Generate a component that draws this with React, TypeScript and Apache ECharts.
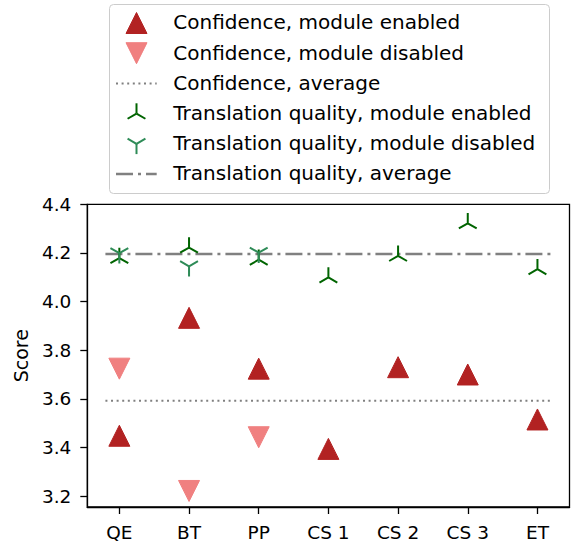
import React, { useEffect, useRef } from 'react';
import * as echarts from 'echarts';

// ---- data ----
const categories = ['QE', 'BT', 'PP', 'CS 1', 'CS 2', 'CS 3', 'ET'];
const confidenceEnabled = [3.448, 3.933, 3.724, 3.394, 3.73, 3.7, 3.515];
const confidenceDisabledCats = ['QE', 'BT', 'PP'];
const confidenceDisabled = [3.724, 3.221, 3.442];
const translationEnabled = [4.179, 4.222, 4.172, 4.099, 4.188, 4.322, 4.133];
const translationDisabledCats = ['QE', 'BT', 'PP'];
const translationDisabled = [4.199, 4.145, 4.201];
const confidenceAverage = 3.592;
const translationAverage = 4.196;
const yTicks = [3.2, 3.4, 3.6, 3.8, 4.0, 4.2, 4.4];
const xTicks = [0, 1, 2, 3, 4, 5, 6];
const legendLabels = [
  'Confidence, module enabled',
  'Confidence, module disabled',
  'Confidence, average',
  'Translation quality, module enabled',
  'Translation quality, module disabled',
  'Translation quality, average',
];

const FONT = 'DejaVu Sans';
const RED = '#B22222';
const PINK = '#F08080';
const DGREEN = '#006400';
const SGREEN = '#2E8B57';
const GRAY = '#808080';

const TRI_UP = 'path://M0,0L0,-1M0,0L-0.866,0.5M0,0L0.866,0.5M-1,-1M1,1';
const TRI_DOWN = 'path://M0,0L0,1M0,0L-0.866,-0.5M0,0L0.866,-0.5M-1,-1M1,1';

function legendGraphics() {
  const els: any[] = [];
  els.push({
    type: 'rect',
    shape: { x: 109.5, y: 4.5, width: 440, height: 189, r: 4 },
    style: { fill: 'rgba(255,255,255,0.8)', stroke: '#cccccc', lineWidth: 1 },
    z: 10,
  });
  const cx = 136.5;
  const r = 10.3;
  const h = 10.5;
  legendLabels.forEach((label, i) => {
    const base = 29.2 + 30.2 * i;
    const cy = base - 6.2;
    els.push({
      type: 'text',
      x: 173.3,
      y: base - 6.9,
      style: { text: label, font: `20px "${FONT}"`, fill: '#000', verticalAlign: 'middle', align: 'left' },
      z: 11,
    });
    if (i === 0) {
      els.push({ type: 'polygon', shape: { points: [[cx, cy - h], [cx + h, cy + h], [cx - h, cy + h]] }, style: { fill: RED, stroke: RED, lineWidth: 1 }, z: 11 });
    } else if (i === 1) {
      els.push({ type: 'polygon', shape: { points: [[cx, cy + h], [cx + h, cy - h], [cx - h, cy - h]] }, style: { fill: PINK, stroke: PINK, lineWidth: 1 }, z: 11 });
    } else if (i === 2) {
      els.push({ type: 'line', shape: { x1: 116, y1: cy, x2: 156.7, y2: cy }, style: { stroke: GRAY, lineWidth: 2, lineDash: [2, 3.6] }, z: 11 });
    } else if (i === 5) {
      els.push({ type: 'line', shape: { x1: 116, y1: cy, x2: 156.7, y2: cy }, style: { stroke: GRAY, lineWidth: 2.5, lineDash: [17, 5, 3, 5] }, z: 11 });
    } else {
      const up = i === 3;
      const col = up ? DGREEN : SGREEN;
      const s = up ? 1 : -1;
      const arms = [
        [cx, cy - s * r],
        [cx - 0.866 * r, cy + s * 0.5 * r],
        [cx + 0.866 * r, cy + s * 0.5 * r],
      ];
      arms.forEach((p) => {
        els.push({ type: 'line', shape: { x1: cx, y1: cy, x2: p[0], y2: p[1] }, style: { stroke: col, lineWidth: 2 }, z: 11 });
      });
    }
  });
  return els;
}

export default function App() {
  const ref = useRef<HTMLDivElement>(null);
  useEffect(() => {
    if (!ref.current) return;
    const chart = echarts.init(ref.current, null, { renderer: 'svg' });
    const idx = (c: string) => categories.indexOf(c);
    const axisLine = { show: true, onZero: false, lineStyle: { color: '#000', width: 1.3 } };
    const option: any = {
      animation: false,
      textStyle: { fontFamily: FONT },
      grid: {
        left: 87.3,
        right: 2.5,
        top: 204.3,
        bottom: 34.3,
        show: true,
        borderColor: '#000',
        borderWidth: 1.3,
        backgroundColor: 'transparent',
      },
      xAxis: {
        type: 'value',
        min: -0.46,
        max: 6.46,
        splitLine: { show: false },
        axisLine,
        axisTick: { show: true, inside: false, length: 7, lineStyle: { color: '#000', width: 1.3 }, customValues: xTicks },
        axisLabel: {
          customValues: xTicks,
          margin: 16,
          fontSize: 18.5,
          color: '#000',
          fontFamily: FONT,
          formatter: (v: number) => categories[Math.round(v)] ?? '',
        },
      },
      yAxis: {
        type: 'value',
        min: 3.155,
        max: 4.4,
        name: 'Score',
        nameLocation: 'middle',
        nameGap: 56,
        nameTextStyle: { fontSize: 19, color: '#000', fontFamily: FONT },
        splitLine: { show: false },
        axisLine,
        axisTick: { show: true, inside: false, length: 7, lineStyle: { color: '#000', width: 1.3 }, customValues: yTicks },
        axisLabel: {
          customValues: yTicks,
          margin: 16,
          fontSize: 18.5,
          color: '#000',
          fontFamily: FONT,
          formatter: (v: number) => v.toFixed(1),
        },
      },
      series: [
        {
          name: legendLabels[2],
          type: 'line',
          data: [[-0.2, confidenceAverage], [6.2, confidenceAverage]],
          symbol: 'none',
          lineStyle: { color: GRAY, width: 2, type: [2, 3.6] },
          z: 2,
        },
        {
          name: legendLabels[5],
          type: 'line',
          data: [[-0.2, translationAverage], [6.2, translationAverage]],
          symbol: 'none',
          lineStyle: { color: GRAY, width: 2.5, type: [17, 5, 3, 5] },
          z: 2,
        },
        {
          name: legendLabels[0],
          type: 'scatter',
          data: categories.map((c, i) => [i, confidenceEnabled[i]]),
          symbol: 'triangle',
          symbolSize: 21,
          itemStyle: { color: RED, borderColor: RED, borderWidth: 1, opacity: 1 },
          z: 3,
        },
        {
          name: legendLabels[1],
          type: 'scatter',
          data: confidenceDisabledCats.map((c, i) => [idx(c), confidenceDisabled[i]]),
          symbol: 'triangle',
          symbolRotate: 180,
          symbolSize: 21,
          itemStyle: { color: PINK, borderColor: PINK, borderWidth: 1, opacity: 1 },
          z: 3,
        },
        {
          name: legendLabels[3],
          type: 'scatter',
          data: categories.map((c, i) => [i, translationEnabled[i]]),
          symbol: TRI_UP,
          symbolSize: 20.6,
          itemStyle: { color: DGREEN, borderColor: DGREEN, borderWidth: 2, opacity: 1 },
          z: 3,
        },
        {
          name: legendLabels[4],
          type: 'scatter',
          data: translationDisabledCats.map((c, i) => [idx(c), translationDisabled[i]]),
          symbol: TRI_DOWN,
          symbolSize: 20.6,
          itemStyle: { color: SGREEN, borderColor: SGREEN, borderWidth: 2, opacity: 1 },
          z: 3,
        },
      ],
      graphic: legendGraphics(),
    };
    chart.setOption(option);
    return () => chart.dispose();
  }, []);
  return (
    <div
      ref={ref}
      style={{ position: 'fixed', left: 0, top: 0, width: 572, height: 542, background: '#fff' }}
    />
  );
}
